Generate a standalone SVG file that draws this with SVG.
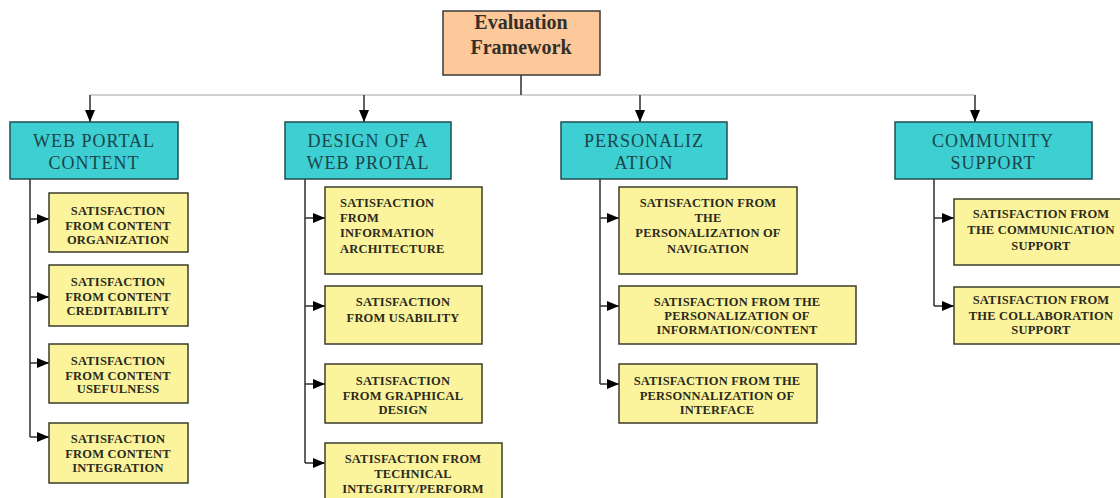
<svg xmlns="http://www.w3.org/2000/svg" width="1120" height="498" viewBox="0 0 1120 498">
  <style>
    .root rect { fill: #fdc99a; stroke: #3a3a3a; stroke-width: 1.5; }
    .root text { font-family: "Liberation Serif", "Times New Roman", serif; font-size: 20px; font-weight: bold; fill: #333029; text-anchor: middle; }
    .cat rect { fill: #3ecfd2; stroke: #1f4f50; stroke-width: 1.5; }
    .cat text { font-family: "Liberation Serif", "Times New Roman", serif; font-size: 18px; fill: #1b4548; text-anchor: middle; letter-spacing: 1px; }
    .item rect { fill: #fbf49c; stroke: #3d3d2a; stroke-width: 1.5; }
    .item text { font-family: "Liberation Serif", "Times New Roman", serif; font-size: 12.5px; font-weight: bold; fill: #2a2a1c; text-anchor: middle; letter-spacing: 0.2px; }
    .item text.left { text-anchor: start; }
    .bus { fill: none; stroke: #d2d2d2; stroke-width: 2; }
    .link { fill: none; stroke: #3a3a3a; stroke-width: 1.6; }
  </style>
  <defs>
    <marker id="arrow" viewBox="0 0 12 10" refX="12" refY="5" markerWidth="12" markerHeight="10" markerUnits="userSpaceOnUse" orient="auto">
      <path d="M0,0 L12,5 L0,10 Z" fill="#000"/>
    </marker>
  </defs>
  <rect width="1120" height="498" fill="#ffffff"/>

  <!-- connectors -->
  <g id="connectors">
    <path class="bus" d="M90,95 H975"/>
    <path class="link" d="M521,75 V95"/>
    <path class="link" d="M90,95 V122" marker-end="url(#arrow)"/>
    <path class="link" d="M364,95 V122" marker-end="url(#arrow)"/>
    <path class="link" d="M640,95 V122" marker-end="url(#arrow)"/>
    <path class="link" d="M975,95 V122" marker-end="url(#arrow)"/>

    <!-- column 1 -->
    <path class="link" d="M30,179 V437"/>
    <path class="link" d="M30,219 H49" marker-end="url(#arrow)"/>
    <path class="link" d="M30,297 H49" marker-end="url(#arrow)"/>
    <path class="link" d="M30,363 H49" marker-end="url(#arrow)"/>
    <path class="link" d="M30,437 H49" marker-end="url(#arrow)"/>

    <!-- column 2 -->
    <path class="link" d="M305,179 V463"/>
    <path class="link" d="M305,218 H325" marker-end="url(#arrow)"/>
    <path class="link" d="M305,306 H325" marker-end="url(#arrow)"/>
    <path class="link" d="M305,384 H325" marker-end="url(#arrow)"/>
    <path class="link" d="M305,463 H325" marker-end="url(#arrow)"/>

    <!-- column 3 -->
    <path class="link" d="M600,179 V384"/>
    <path class="link" d="M600,218 H619" marker-end="url(#arrow)"/>
    <path class="link" d="M600,306 H619" marker-end="url(#arrow)"/>
    <path class="link" d="M600,384 H619" marker-end="url(#arrow)"/>

    <!-- column 4 -->
    <path class="link" d="M934,179 V306"/>
    <path class="link" d="M934,218 H954" marker-end="url(#arrow)"/>
    <path class="link" d="M934,306 H954" marker-end="url(#arrow)"/>
  </g>

  <!-- root -->
  <g id="evaluation-framework" class="root">
    <rect x="443" y="11" width="157" height="64"/>
    <text x="521" y="29">Evaluation</text>
    <text x="521" y="54">Framework</text>
  </g>

  <!-- categories -->
  <g id="web-portal-content" class="cat">
    <rect x="10" y="122" width="168" height="57"/>
    <text x="94" y="147">WEB PORTAL</text>
    <text x="94" y="169">CONTENT</text>
  </g>
  <g id="design-of-a-web-portal" class="cat">
    <rect x="285" y="122" width="166" height="57"/>
    <text x="368" y="147">DESIGN OF A</text>
    <text x="368" y="169">WEB PROTAL</text>
  </g>
  <g id="personalization" class="cat">
    <rect x="561" y="122" width="166" height="57"/>
    <text x="644" y="147">PERSONALIZ</text>
    <text x="644" y="169">ATION</text>
  </g>
  <g id="community-support" class="cat">
    <rect x="895" y="122" width="197" height="57"/>
    <text x="993" y="147">COMMUNITY</text>
    <text x="993" y="169">SUPPORT</text>
  </g>

  <!-- column 1 items -->
  <g id="content-organization" class="item">
    <rect x="49" y="193" width="139" height="59"/>
    <text x="118" y="215">SATISFACTION</text>
    <text x="118" y="230">FROM CONTENT</text>
    <text x="118" y="244">ORGANIZATION</text>
  </g>
  <g id="content-creditability" class="item">
    <rect x="49" y="265" width="139" height="61"/>
    <text x="118" y="286">SATISFACTION</text>
    <text x="118" y="301">FROM CONTENT</text>
    <text x="118" y="315">CREDITABILITY</text>
  </g>
  <g id="content-usefulness" class="item">
    <rect x="49" y="344" width="139" height="59"/>
    <text x="118" y="365">SATISFACTION</text>
    <text x="118" y="380">FROM CONTENT</text>
    <text x="118" y="393">USEFULNESS</text>
  </g>
  <g id="content-integration" class="item">
    <rect x="49" y="423" width="139" height="60"/>
    <text x="118" y="443">SATISFACTION</text>
    <text x="118" y="458">FROM CONTENT</text>
    <text x="118" y="472">INTEGRATION</text>
  </g>

  <!-- column 2 items -->
  <g id="information-architecture" class="item">
    <rect x="325" y="187" width="157" height="87"/>
    <text class="left" x="340" y="207">SATISFACTION</text>
    <text class="left" x="340" y="222">FROM</text>
    <text class="left" x="340" y="237">INFORMATION</text>
    <text class="left" x="340" y="253">ARCHITECTURE</text>
  </g>
  <g id="usability" class="item">
    <rect x="325" y="286" width="157" height="58"/>
    <text x="403" y="306">SATISFACTION</text>
    <text x="403" y="322">FROM USABILITY</text>
  </g>
  <g id="graphical-design" class="item">
    <rect x="325" y="364" width="157" height="59"/>
    <text x="403" y="385">SATISFACTION</text>
    <text x="403" y="400">FROM GRAPHICAL</text>
    <text x="403" y="414">DESIGN</text>
  </g>
  <g id="technical-integrity" class="item">
    <rect x="325" y="443" width="177" height="62"/>
    <text x="413" y="463">SATISFACTION FROM</text>
    <text x="413" y="478">TECHNICAL</text>
    <text x="413" y="493">INTEGRITY/PERFORM</text>
  </g>

  <!-- column 3 items -->
  <g id="personalization-navigation" class="item">
    <rect x="619" y="187" width="178" height="87"/>
    <text x="708" y="207">SATISFACTION FROM</text>
    <text x="708" y="222">THE</text>
    <text x="708" y="237">PERSONALIZATION OF</text>
    <text x="708" y="253">NAVIGATION</text>
  </g>
  <g id="personalization-content" class="item">
    <rect x="619" y="286" width="237" height="58"/>
    <text x="737" y="306">SATISFACTION FROM THE</text>
    <text x="737" y="320">PERSONALIZATION OF</text>
    <text x="737" y="334">INFORMATION/CONTENT</text>
  </g>
  <g id="personalization-interface" class="item">
    <rect x="619" y="364" width="198" height="59"/>
    <text x="717" y="385">SATISFACTION FROM THE</text>
    <text x="717" y="400">PERSONNALIZATION OF</text>
    <text x="717" y="414">INTERFACE</text>
  </g>

  <!-- column 4 items -->
  <g id="communication-support" class="item">
    <rect x="954" y="199" width="180" height="66"/>
    <text x="1041" y="218">SATISFACTION FROM</text>
    <text x="1041" y="234">THE COMMUNICATION</text>
    <text x="1041" y="250">SUPPORT</text>
  </g>
  <g id="collaboration-support" class="item">
    <rect x="954" y="287" width="180" height="57"/>
    <text x="1041" y="304">SATISFACTION FROM</text>
    <text x="1041" y="320">THE COLLABORATION</text>
    <text x="1041" y="334">SUPPORT</text>
  </g>
</svg>
